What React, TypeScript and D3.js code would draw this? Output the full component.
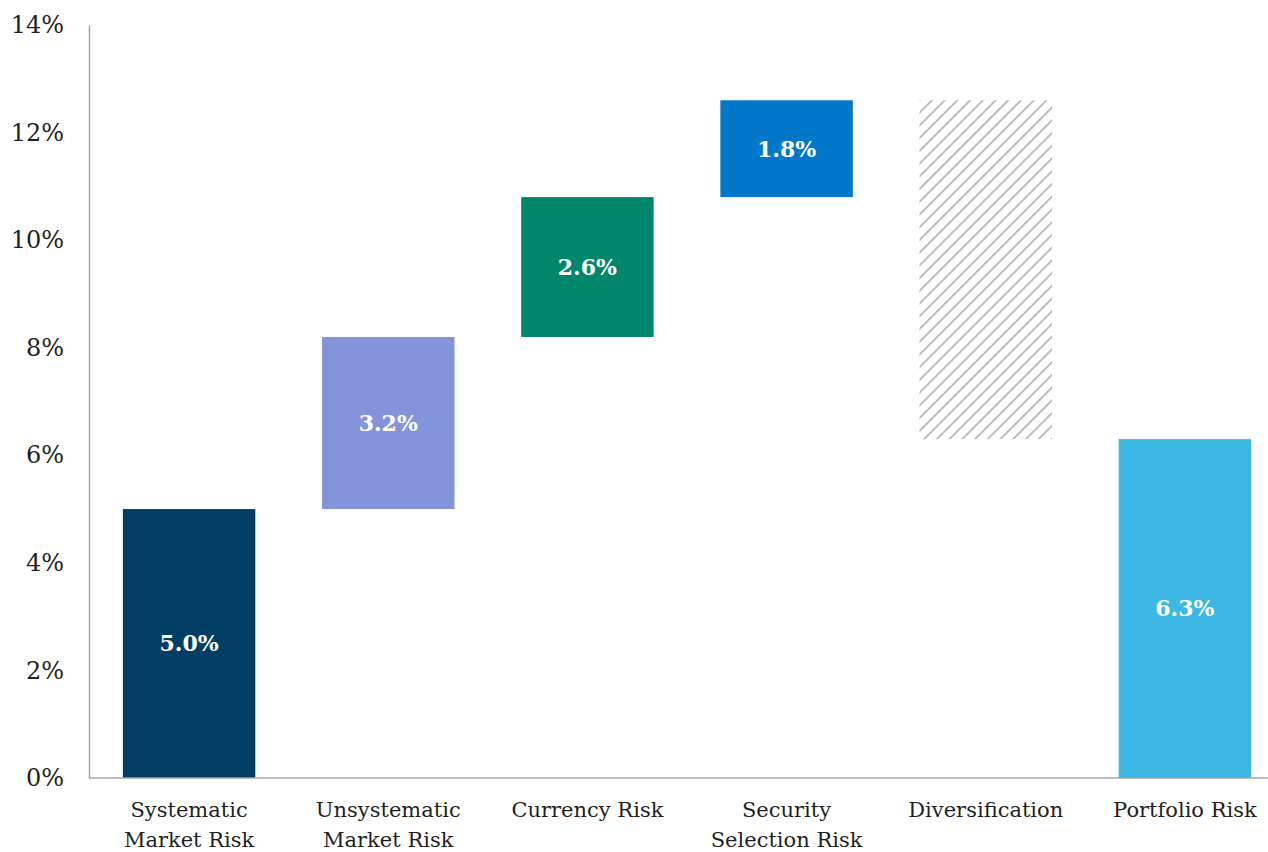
import { useEffect, useRef } from 'react'
import * as d3 from 'd3'

const categories = [
  ['Systematic', 'Market Risk'],
  ['Unsystematic', 'Market Risk'],
  ['Currency Risk'],
  ['Security', 'Selection Risk'],
  ['Diversification'],
  ['Portfolio Risk'],
]
const values = [5.0, 3.2, 2.6, 1.8, -6.3, 6.3]
const isTotal = [false, false, false, false, false, true]
const showLabel = [true, true, true, true, false, true]
const colors = ['#003f63', '#8394db', '#00866a', '#0077c8', 'hatch', '#3db7e4']
const yTicks = [0, 2, 4, 6, 8, 10, 12, 14]

export default function App() {
  const ref = useRef<SVGSVGElement>(null)

  useEffect(() => {
    if (!ref.current) return
    const svg = d3.select(ref.current)
    svg.selectAll('*').remove()

    const W = 1268
    const H = 852
    const left = 89
    const font = '"DejaVu Serif", serif'

    const x = d3
      .scaleBand()
      .domain(categories.map((_, i) => String(i)))
      .range([left, 1285])
      .paddingInner(0.335)
      .paddingOuter(0.17)

    const y = d3.scaleLinear().domain([0, 14]).range([778, 25])

    // hatch pattern
    const pat = svg
      .append('defs')
      .append('pattern')
      .attr('id', 'hatch')
      .attr('patternUnits', 'userSpaceOnUse')
      .attr('width', 9)
      .attr('height', 9)
      .attr('patternTransform', 'rotate(45)')
    pat.append('rect').attr('width', 9).attr('height', 9).attr('fill', '#fff')
    pat
      .append('line')
      .attr('x1', 0)
      .attr('y1', 0)
      .attr('x2', 0)
      .attr('y2', 9)
      .attr('stroke', '#b4b4b4')
      .attr('stroke-width', 3.5)

    // compute waterfall
    let running = 0
    const bars = values.map((v, i) => {
      let y0: number, y1: number
      if (isTotal[i]) {
        y0 = 0
        y1 = v
        running = v
      } else {
        y0 = running
        y1 = running + v
        running = y1
      }
      return { i, v, lo: Math.min(y0, y1), hi: Math.max(y0, y1) }
    })

    svg
      .append('g')
      .selectAll('rect')
      .data(bars)
      .join('rect')
      .attr('x', d => x(String(d.i))!)
      .attr('width', x.bandwidth())
      .attr('y', d => y(d.hi))
      .attr('height', d => y(d.lo) - y(d.hi))
      .attr('fill', d => (colors[d.i] === 'hatch' ? 'url(#hatch)' : colors[d.i]))

    // value labels
    svg
      .append('g')
      .selectAll('text')
      .data(bars.filter(d => showLabel[d.i]))
      .join('text')
      .attr('x', d => x(String(d.i))! + x.bandwidth() / 2)
      .attr('y', d => (y(d.lo) + y(d.hi)) / 2)
      .attr('dy', '0.36em')
      .attr('text-anchor', 'middle')
      .style('font-family', font)
      .style('font-weight', 'bold')
      .style('font-size', '22px')
      .style('fill', '#fff')
      .text(d => `${Math.abs(d.v).toFixed(1)}%`)

    // y axis
    const yAxis = svg
      .append('g')
      .attr('transform', `translate(${left},0)`)
      .call(
        d3
          .axisLeft(y)
          .tickValues(yTicks)
          .tickSize(0)
          .tickPadding(25)
          .tickFormat(d => `${d}%`)
      )
    yAxis.select('.domain').attr('stroke', '#a6a6a6').attr('stroke-width', 1.5)
    yAxis
      .selectAll('text')
      .style('font-family', font)
      .style('font-size', '24px')
      .style('fill', '#1f1f1f')

    // x axis line
    svg
      .append('line')
      .attr('x1', left)
      .attr('x2', W)
      .attr('y1', y(0))
      .attr('y2', y(0))
      .attr('stroke', '#a6a6a6')
      .attr('stroke-width', 1.5)

    // category labels
    const cat = svg
      .append('g')
      .selectAll('text')
      .data(categories)
      .join('text')
      .attr('x', (_, i) => x(String(i))! + x.bandwidth() / 2)
      .attr('y', 817)
      .attr('text-anchor', 'middle')
      .style('font-family', font)
      .style('font-size', '21px')
      .style('fill', '#1f1f1f')
    cat
      .selectAll('tspan')
      .data(d => d)
      .join('tspan')
      .attr('x', function () {
        return (this.parentNode as SVGTextElement).getAttribute('x')
      })
      .attr('dy', (_, j) => (j === 0 ? 0 : 30))
      .text(d => d)

    svg.attr('width', W).attr('height', H)
  }, [])

  return (
    <svg
      ref={ref}
      width={1268}
      height={852}
      style={{ position: 'absolute', left: 0, top: 0, background: '#fff' }}
    />
  )
}
